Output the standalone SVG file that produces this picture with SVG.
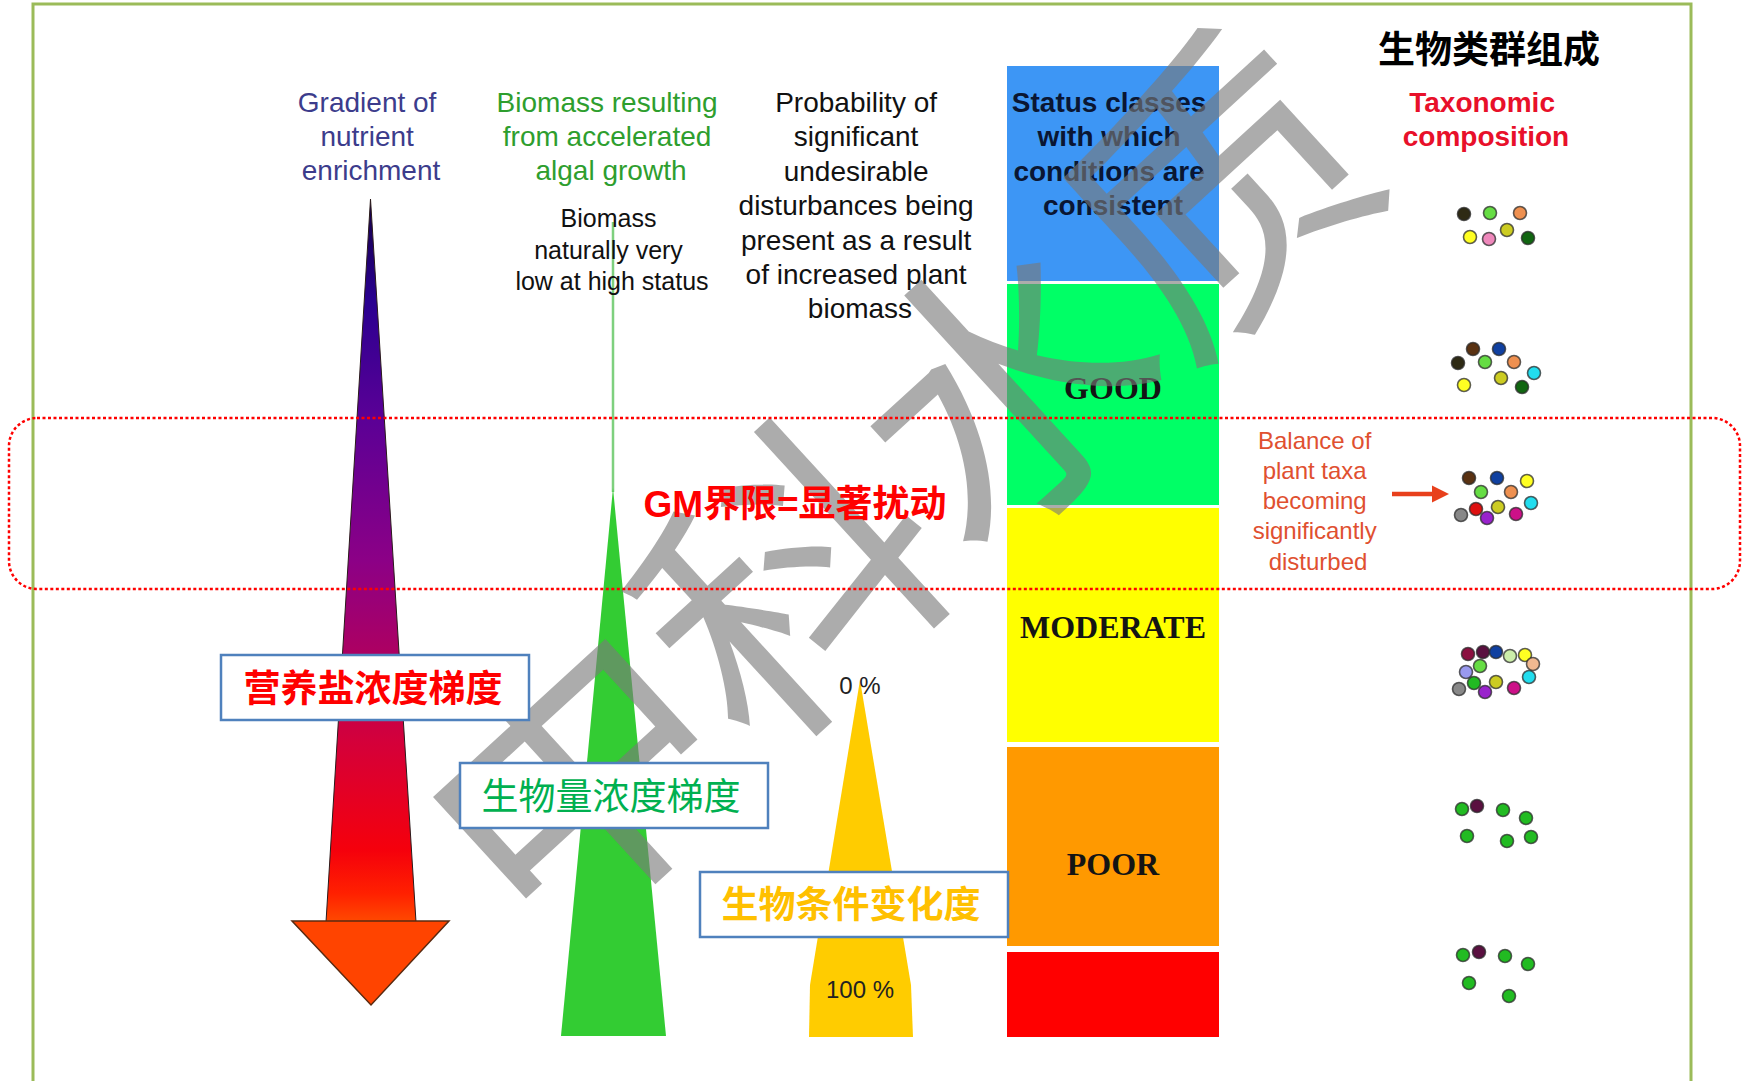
<svg xmlns="http://www.w3.org/2000/svg" width="1742" height="1081" viewBox="0 0 1742 1081">
  <defs>
    <linearGradient id="nutrientGrad" gradientUnits="userSpaceOnUse" x1="0" y1="200" x2="0" y2="922">
      <stop offset="0" stop-color="#150048"/>
      <stop offset="0.14" stop-color="#2A0090"/>
      <stop offset="0.30" stop-color="#5A0096"/>
      <stop offset="0.50" stop-color="#8C0086"/>
      <stop offset="0.64" stop-color="#B0005E"/>
      <stop offset="0.75" stop-color="#D4003A"/>
      <stop offset="0.90" stop-color="#F5000C"/>
      <stop offset="0.96" stop-color="#FF2000"/>
      <stop offset="1" stop-color="#FF4A00"/>
    </linearGradient>
  </defs>
  <style>
    .sans { font-family: "Liberation Sans", Arial, "Noto Sans CJK SC", sans-serif; }
    .cjk { font-family: "Noto Sans CJK SC", "Liberation Sans", sans-serif; }
    .serif { font-family: "Liberation Serif", "Times New Roman", serif; font-weight: bold; font-size: 32px; fill: #141414; text-anchor: middle; }
    .head { font-size: 28px; text-anchor: middle; }
    .box { fill: #FFFFFF; stroke: #4F81BD; stroke-width: 2.5; }
    .dot { stroke: #2A2A2A; stroke-opacity: 0.75; stroke-width: 1.6; }
    .dk { fill: #2E2A14; } .lg { fill: #66DD44; } .or { fill: #EE9050; } .ye { fill: #FFFF22; }
    .pk { fill: #EE88BB; } .ol { fill: #CCCC22; } .dg { fill: #116611; } .br { fill: #5A3212; }
    .bl { fill: #1040A0; } .cy { fill: #22DDEE; } .rd { fill: #DD1010; } .gr { fill: #888888; }
    .pu { fill: #9922CC; } .mg { fill: #CC1188; } .mr { fill: #8B1040; } .dm { fill: #5A1040; }
    .pg { fill: #CCEEAA; } .pe { fill: #F0B890; } .lv { fill: #9999EE; } .gn { fill: #22BB22; }
  </style>

  <rect width="1742" height="1081" fill="#FFFFFF"/>

  <!-- page frame -->
  <rect x="33" y="4" width="1658" height="1100" fill="none" stroke="#9BBB59" stroke-width="3"/>

  <!-- column 1: nutrient gradient arrow -->
  <g id="nutrient-column">
    <text class="sans head" fill="#3C3C8C">
      <tspan x="371" y="112">Gradient of</tspan>
      <tspan x="371" y="146">nutrient</tspan>
      <tspan x="371" y="180">enrichment</tspan>
    </text>
    <polygon points="370.5,199 416,922 326,922" fill="url(#nutrientGrad)" stroke="#2A1A1A" stroke-width="1"/>
    <polygon points="292,921 449,921 371,1005" fill="#FF4400" stroke="#5A2A10" stroke-width="1.5"/>
  </g>

  <!-- column 2: biomass spike -->
  <g id="biomass-column">
    <text class="sans head" fill="#2E9E2E">
      <tspan x="611" y="112">Biomass resulting</tspan>
      <tspan x="611" y="146">from accelerated</tspan>
      <tspan x="611" y="180">algal growth</tspan>
    </text>
    <line x1="613" y1="222" x2="613" y2="492" stroke="#7ED07E" stroke-width="2.5"/>
    <polygon points="613,488 666,1036 561,1036" fill="#33CC33"/>
    <text class="sans" font-size="25" fill="#111111" text-anchor="middle">
      <tspan x="612" y="227">Biomass</tspan>
      <tspan x="612" y="259">naturally very</tspan>
      <tspan x="612" y="290">low at high status</tspan>
    </text>
  </g>

  <!-- column 3: probability of disturbance -->
  <g id="probability-column">
    <text class="sans head" fill="#111111">
      <tspan x="860" y="112">Probability of</tspan>
      <tspan x="860" y="146.4">significant</tspan>
      <tspan x="860" y="180.8">undesirable</tspan>
      <tspan x="860" y="215.2">disturbances being</tspan>
      <tspan x="860" y="249.6">present as a result</tspan>
      <tspan x="860" y="284">of increased plant</tspan>
      <tspan x="860" y="318.4">biomass</tspan>
    </text>
    <polygon points="860,680 911,985 913,1037 809,1037 810,985" fill="#FFCC00"/>
    <text class="sans" font-size="24" fill="#222222" text-anchor="middle" x="860" y="694">0 %</text>
    <text class="sans" font-size="24" fill="#222222" text-anchor="middle" x="860" y="998">100 %</text>
  </g>

  <!-- column 4: status classes -->
  <g id="status-high">
    <rect x="1007" y="66" width="212" height="215" fill="#3D96F5"/>
    <text class="sans head" font-weight="bold" fill="#0A1633">
      <tspan x="1113" y="112">Status classes</tspan>
      <tspan x="1113" y="146">with which</tspan>
      <tspan x="1113" y="181">conditions are</tspan>
      <tspan x="1113" y="215">consistent</tspan>
    </text>
  </g>
  <g id="status-good">
    <rect x="1007" y="284" width="212" height="221" fill="#00FF66"/>
    <text class="serif" x="1113" y="399">GOOD</text>
  </g>
  <g id="status-moderate">
    <rect x="1007" y="508" width="212" height="234" fill="#FFFF00"/>
    <text class="serif" x="1113" y="638">MODERATE</text>
  </g>
  <g id="status-poor">
    <rect x="1007" y="747" width="212" height="199" fill="#FF9900"/>
    <text class="serif" x="1113" y="875">POOR</text>
  </g>
  <g id="status-bad">
    <rect x="1007" y="952" width="212" height="85" fill="#FF0000"/>
  </g>

  <!-- column 5: taxonomic composition -->
  <g id="taxonomy-column">
    <text class="cjk" font-size="37" font-weight="bold" fill="#000000" text-anchor="middle" x="1489" y="63">生物类群组成</text>
    <text class="sans head" font-weight="bold" fill="#E8102A">
      <tspan x="1486" y="112">Taxonomic</tspan>
      <tspan x="1486" y="146">composition</tspan>
    </text>
  </g>

  <g id="taxa-high">
    <circle class="dot dk" cx="1464" cy="214" r="6.5"/>
    <circle class="dot lg" cx="1490" cy="213" r="6.5"/>
    <circle class="dot or" cx="1520" cy="213" r="6.5"/>
    <circle class="dot ye" cx="1470" cy="237" r="6.5"/>
    <circle class="dot pk" cx="1489" cy="239" r="6.5"/>
    <circle class="dot ol" cx="1507" cy="230" r="6.5"/>
    <circle class="dot dg" cx="1528" cy="238" r="6.5"/>
  </g>
  <g id="taxa-good">
    <circle class="dot br" cx="1473" cy="349" r="6.5"/>
    <circle class="dot bl" cx="1499" cy="349" r="6.5"/>
    <circle class="dot dk" cx="1458" cy="363" r="6.5"/>
    <circle class="dot lg" cx="1485" cy="362" r="6.5"/>
    <circle class="dot or" cx="1514" cy="362" r="6.5"/>
    <circle class="dot cy" cx="1534" cy="373" r="6.5"/>
    <circle class="dot ye" cx="1464" cy="385" r="6.5"/>
    <circle class="dot ol" cx="1501" cy="378" r="6.5"/>
    <circle class="dot dg" cx="1522" cy="387" r="6.5"/>
  </g>
  <g id="taxa-boundary">
    <circle class="dot br" cx="1469" cy="478" r="6.5"/>
    <circle class="dot bl" cx="1497" cy="478" r="6.5"/>
    <circle class="dot ye" cx="1527" cy="481" r="6.5"/>
    <circle class="dot lg" cx="1481" cy="492" r="6.5"/>
    <circle class="dot or" cx="1511" cy="492" r="6.5"/>
    <circle class="dot cy" cx="1531" cy="503" r="6.5"/>
    <circle class="dot rd" cx="1476" cy="509" r="6.5"/>
    <circle class="dot ol" cx="1498" cy="507" r="6.5"/>
    <circle class="dot gr" cx="1461" cy="515" r="6.5"/>
    <circle class="dot pu" cx="1487" cy="518" r="6.5"/>
    <circle class="dot mg" cx="1516" cy="514" r="6.5"/>
  </g>
  <g id="taxa-moderate">
    <circle class="dot mr" cx="1468" cy="654" r="6.5"/>
    <circle class="dot dm" cx="1483" cy="652" r="6.5"/>
    <circle class="dot bl" cx="1496" cy="652" r="6.5"/>
    <circle class="dot pg" cx="1510" cy="656" r="6.5"/>
    <circle class="dot ye" cx="1525" cy="655" r="6.5"/>
    <circle class="dot pe" cx="1533" cy="664" r="6.5"/>
    <circle class="dot lv" cx="1466" cy="672" r="6.5"/>
    <circle class="dot lg" cx="1480" cy="666" r="6.5"/>
    <circle class="dot cy" cx="1529" cy="677" r="6.5"/>
    <circle class="dot gr" cx="1459" cy="689" r="6.5"/>
    <circle class="dot gn" cx="1474" cy="683" r="6.5"/>
    <circle class="dot ol" cx="1496" cy="682" r="6.5"/>
    <circle class="dot pu" cx="1485" cy="692" r="6.5"/>
    <circle class="dot mg" cx="1514" cy="688" r="6.5"/>
  </g>
  <g id="taxa-poor">
    <circle class="dot gn" cx="1462" cy="809" r="6.5"/>
    <circle class="dot dm" cx="1477" cy="806" r="6.5"/>
    <circle class="dot gn" cx="1503" cy="810" r="6.5"/>
    <circle class="dot gn" cx="1526" cy="818" r="6.5"/>
    <circle class="dot gn" cx="1467" cy="836" r="6.5"/>
    <circle class="dot gn" cx="1507" cy="841" r="6.5"/>
    <circle class="dot gn" cx="1531" cy="837" r="6.5"/>
  </g>
  <g id="taxa-bad">
    <circle class="dot gn" cx="1463" cy="955" r="6.5"/>
    <circle class="dot dm" cx="1479" cy="952" r="6.5"/>
    <circle class="dot gn" cx="1505" cy="956" r="6.5"/>
    <circle class="dot gn" cx="1528" cy="964" r="6.5"/>
    <circle class="dot gn" cx="1469" cy="983" r="6.5"/>
    <circle class="dot gn" cx="1509" cy="996" r="6.5"/>
  </g>

  <g id="balance-note">
    <text class="sans" font-size="24" fill="#E05030" text-anchor="middle">
      <tspan x="1318" y="449">Balance of</tspan>
      <tspan x="1318" y="479">plant taxa</tspan>
      <tspan x="1318" y="509">becoming</tspan>
      <tspan x="1318" y="539">significantly</tspan>
      <tspan x="1318" y="570">disturbed</tspan>
    </text>
  </g>

  <!-- connectors -->
  <g id="connectors">
    <line x1="1392" y1="494" x2="1436" y2="494" stroke="#E8401C" stroke-width="4.5"/>
    <polygon points="1432,485.5 1449,494 1432,502.5" fill="#E8401C"/>
  </g>

  <!-- watermark -->
  <g id="watermark" transform="translate(898,487) rotate(-42.5)" opacity="0.62">
    <text class="cjk" font-size="290" fill="#7A7A7A" text-anchor="middle" x="0" y="106">中科水质</text>
  </g>

  <!-- good/moderate boundary band -->
  <rect id="gm-band" x="9" y="418" width="1731" height="171" rx="28" ry="28" fill="none" stroke="#FF0000" stroke-width="2.5" stroke-dasharray="3 2.5"/>
  <g id="gm-label">
    <text class="sans" font-size="37" font-weight="bold" fill="#FF0000" text-anchor="middle" x="795" y="517">GM界限=显著扰动</text>
  </g>

  <!-- gradient labels -->
  <g id="label-nutrient">
    <rect class="box" x="221" y="655" width="308" height="65"/>
    <text class="cjk" font-size="37" font-weight="bold" fill="#FF0000" text-anchor="middle" x="373" y="702">营养盐浓度梯度</text>
  </g>
  <g id="label-biomass">
    <rect class="box" x="460" y="763" width="308" height="65"/>
    <text class="cjk" font-size="37" fill="#00B050" text-anchor="middle" x="611" y="810">生物量浓度梯度</text>
  </g>
  <g id="label-condition">
    <rect class="box" x="700" y="872" width="308" height="65"/>
    <text class="cjk" font-size="37" font-weight="bold" fill="#FFC000" text-anchor="middle" x="851" y="918">生物条件变化度</text>
  </g>
</svg>
